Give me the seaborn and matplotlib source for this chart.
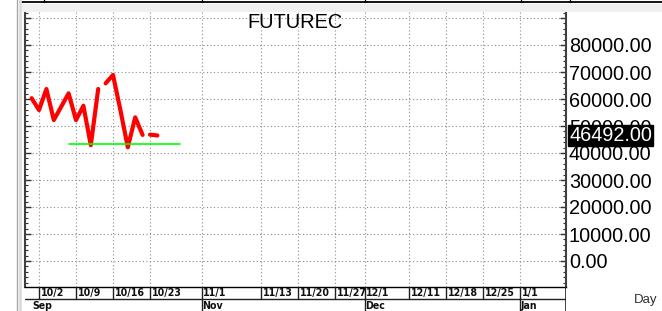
import numpy as np
import pandas as pd
import seaborn as sns
import matplotlib.pyplot as plt
from matplotlib.lines import Line2D
from matplotlib.patches import Rectangle
from matplotlib.ticker import FixedLocator, MultipleLocator, FuncFormatter

# price path (x = trading day index, 10/2 = 0), split where the chart has gaps
seg1_day = [-1, 0, 1, 2, 4, 5, 6, 7, 8]
seg1_price = [60300, 55900, 63700, 52200, 62100, 52200, 57500, 42900, 63700]
seg2_day = [9, 10, 11, 12, 13, 14]
seg2_price = [65800, 68900, 55900, 42100, 53200, 46700]
seg3_day = [15, 16]
seg3_price = [46800, 46492]

# green support line
support_day = [4, 19]
support_price = [43200, 43200]

last_price = 46492

# date axis
date_ticks = [0, 5, 10, 15, 22, 30, 35, 40, 44, 50, 55, 60, 65]
date_labels = ['10/2', '10/9', '10/16', '10/23', '11/1', '11/13', '11/20',
               '11/27', '12/1', '12/11', '12/18', '12/25', '1/1']
month_ticks = [-1, 22, 44, 65]
month_labels = ['Sep', 'Nov', 'Dec', 'Jan']
price_ticks = [0, 10000, 20000, 30000, 40000, 50000, 60000, 70000, 80000, 90000]

df = pd.DataFrame({
    'day': seg1_day + seg2_day + seg3_day,
    'price': seg1_price + seg2_price + seg3_price,
    'segment': [1] * len(seg1_day) + [2] * len(seg2_day) + [3] * len(seg3_day),
})

sns.set_theme(style='white')
plt.rcParams['font.family'] = ['Liberation Sans', 'DejaVu Sans']

W, H = 662, 311
fig = plt.figure(figsize=(W / 100, H / 100), dpi=100)
fig.patch.set_facecolor('white')

x0, x1, y_top, y_bot = 25, 566, 12, 287
xlim = ((x0 - 39) / 7.4, (x1 - 39) / 7.4)

ax = fig.add_axes([x0 / W, (H - y_bot) / H, (x1 - x0) / W, (y_bot - y_top) / H])
ax.set_facecolor('white')

sns.lineplot(data=df, x='day', y='price', units='segment', estimator=None,
             color='#ff0000', linewidth=3, ax=ax, legend=False)
sns.lineplot(x=support_day, y=support_price, color='#00ff00', linewidth=1.2, ax=ax)

ax.set_xlim(*xlim)
ax.set_ylim((261 - y_bot) / 27 * 10000, (261 - y_top) / 27 * 10000)
ax.set_xlabel('')
ax.set_ylabel('')

ax.xaxis.set_major_locator(FixedLocator(date_ticks))
ax.tick_params(axis='x', length=0, labelbottom=False)
ax.yaxis.set_major_locator(FixedLocator(price_ticks))
ax.yaxis.set_minor_locator(MultipleLocator(2000))
ax.yaxis.set_major_formatter(FuncFormatter(lambda v, p: '' if v > 85000 else f'{v:.2f}'))
ax.tick_params(axis='y', which='both', left=True, right=True, direction='in',
               labelleft=False, labelright=True, colors='#303030', labelcolor='black')
ax.tick_params(axis='y', which='major', length=4, width=1, labelsize=14.3, pad=2)
ax.tick_params(axis='y', which='minor', length=2.5, width=0.8)
ax.grid(True, which='major', color='#8c8c8c', linestyle=(0, (1, 2.2)), linewidth=0.8)

for side in ['left', 'right']:
    ax.spines[side].set_color('#404040')
    ax.spines[side].set_linewidth(1.5)
ax.spines['bottom'].set_color('black')
ax.spines['bottom'].set_linewidth(1)
ax.spines['top'].set_visible(False)

# last price marker on the right scale
ax.annotate(f'{last_price:.2f}', xy=(1, last_price), xycoords=('axes fraction', 'data'),
            xytext=(2.5, 0), textcoords='offset points', ha='left', va='center',
            fontsize=14.3, color='white', zorder=5,
            bbox=dict(boxstyle='square,pad=0.05', facecolor='black', edgecolor='black'))

# date band under the plot
band = fig.add_axes([x0 / W, 0, (x1 - x0) / W, (H - y_bot) / H])
band.set_xlim(*xlim)
band.set_ylim(0, 2)
band.axis('off')
band.axhline(1, color='#202020', linewidth=1)
band.axvline(xlim[1], color='#202020', linewidth=1.2)
small = dict(fontsize=7.6, fontweight='bold', fontstretch='condensed',
             family='DejaVu Sans', color='#101010')
for d, lab in zip(date_ticks, date_labels):
    band.plot([d, d], [1, 2], color='#202020', linewidth=1)
    band.text(d + 0.2, 1.5, lab, ha='left', va='center', **small)
for d, lab in zip(month_ticks, month_labels):
    if d > 0:
        band.plot([d, d], [0, 1], color='#202020', linewidth=1)
    band.text(d + 0.1, 0.45, lab, ha='left', va='center', **small)

# title and axis name
fig.text(295 / W, 1 - 22 / H, 'FUTUREC', ha='center', va='center', fontsize=14.4, color='black')
fig.text(646 / W, 1 - 300 / H, 'Day', ha='center', va='center', fontsize=9.5, color='#303030')

# window chrome around the chart
fig.patches.append(Rectangle((20 / W, 1 - 12 / H), 1, 8 / H, transform=fig.transFigure,
                             facecolor='#f0f0f0', edgecolor='none', zorder=0))
fig.add_artist(Line2D([20 / W, 1], [1 - 2 / H, 1 - 2 / H], color='black', linewidth=1.3))
for xs in [44, 202, 365, 521, 570]:
    fig.add_artist(Line2D([xs / W, xs / W], [1, 1 - 2 / H], color='black', linewidth=1))
fig.add_artist(Line2D([17 / W, 17 / W], [0, 1], color='#a8a8a8', linewidth=1))
fig.add_artist(Line2D([19.5 / W, 19.5 / W], [0, 1], color='#dcdcdc', linewidth=2))

fig.savefig('out.png', dpi=100)
